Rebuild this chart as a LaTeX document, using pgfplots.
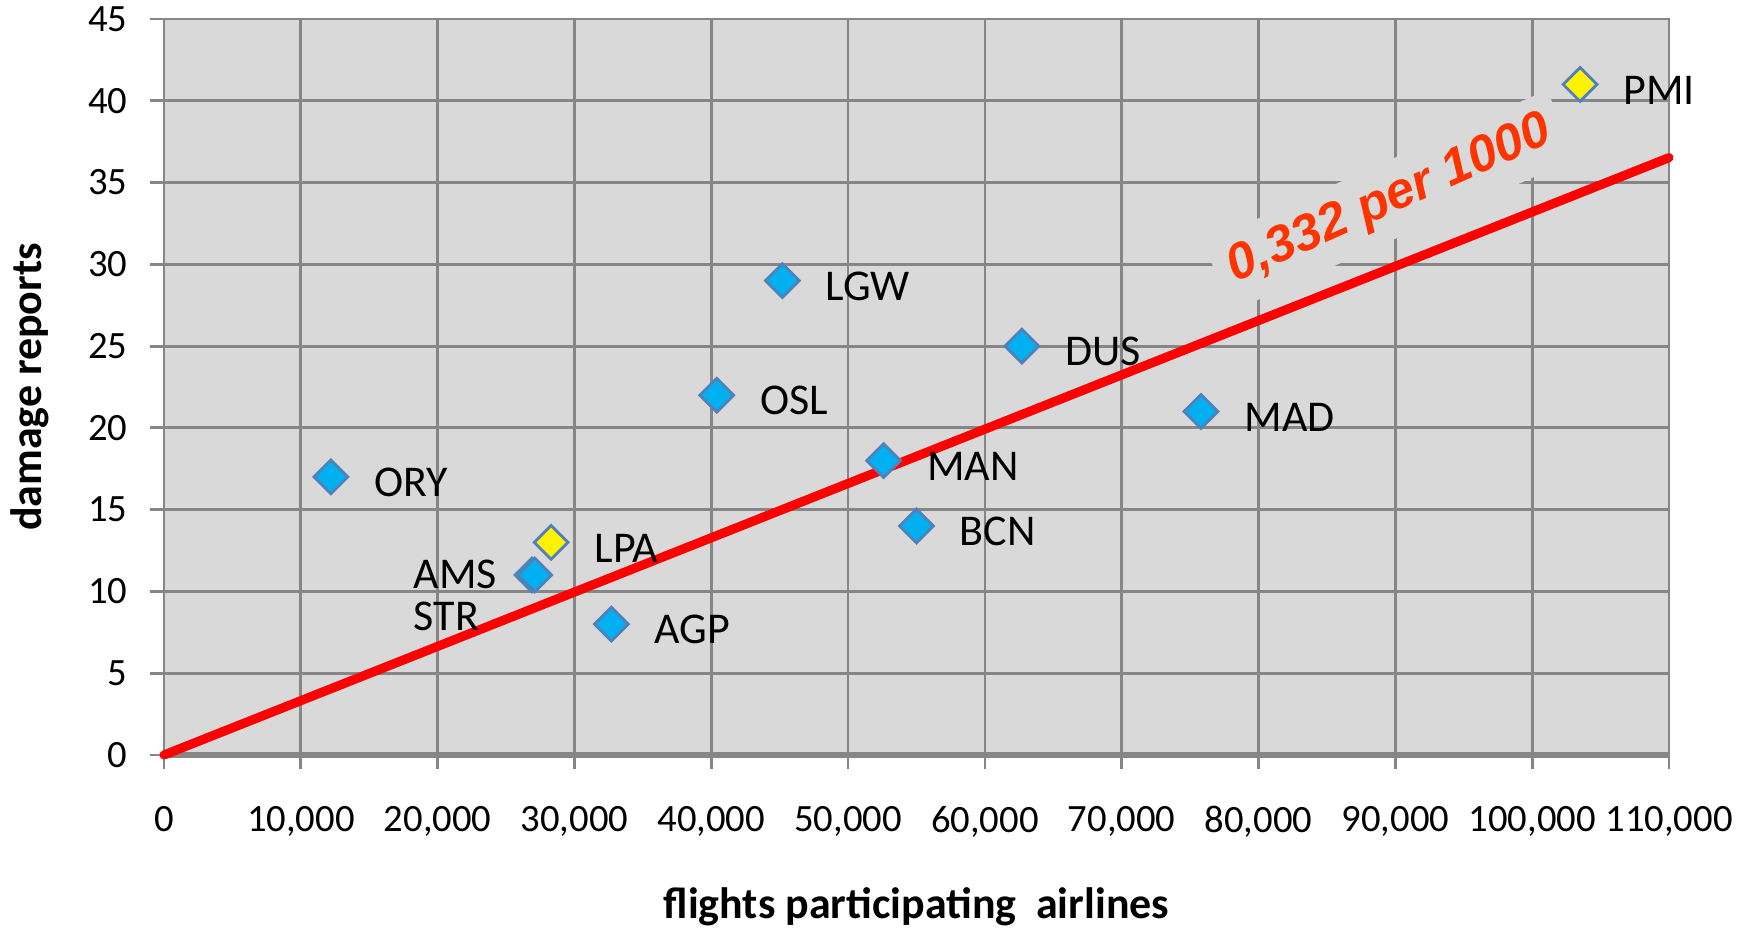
\documentclass[border=0pt]{standalone}
\usepackage{pgfplots}
\pgfplotsset{compat=1.18}
\usepackage{fontspec}
\setmainfont{Carlito}
\newfontfamily\arialfont{Liberation Sans}
\definecolor{bggray}{HTML}{D9D9D9}
\definecolor{gridgray}{HTML}{868686}
\definecolor{mfill}{HTML}{00B0F0}
\definecolor{mdraw}{HTML}{4F81BD}
\definecolor{lbl}{HTML}{FF3300}
\begin{document}
\begin{tikzpicture}
\begin{axis}[
  name=ax,
  scale only axis,
  width=15.05cm, height=7.36cm,
  xmin=0, xmax=110000, ymin=0, ymax=45,
  xtick={0,10000,20000,30000,40000,50000,60000,70000,80000,90000,100000,110000},
  ytick={0,5,10,15,20,25,30,35,40,45},
  scaled x ticks=false,
  /pgf/number format/fixed,
  /pgf/number format/precision=0,
  /pgf/number format/1000 sep={,},
  /pgf/number format/assume math mode=true,
  tick label style={font=\fontsize{11}{13}\selectfont},
  axis background/.style={fill=bggray},
  grid=major,
  major grid style={gridgray, line width=0.8pt},
  axis line style={gridgray, line width=0.8pt},
  tick style={gridgray, line width=0.8pt},
  tick align=outside, major tick length=0.14cm,
  tick pos=left,
  xticklabel style={yshift=-0.25cm},
  yticklabel style={xshift=-0.1cm},
  extra y ticks={0}, extra y tick labels={},
  extra y tick style={major grid style={gridgray, line width=1.6pt}},
  xlabel={flights participating\ \ airlines},
  ylabel={damage reports},
  label style={font=\bfseries\fontsize{12.5}{15}\selectfont},
  xlabel style={at={(axis description cs:0.5,-0.206)}, anchor=center},
  ylabel style={at={(axis description cs:-0.089,0.5)}, anchor=center},
  clip=false,
]
\node[rotate=24, fill=bggray, text=lbl, inner sep=4pt,
  font=\arialfont\bfseries\itshape\fontsize{14.5}{17}\selectfont]
  at (axis cs:89600,33.9) {0,332 per 1000};
\addplot[red, line width=2.6pt, line cap=round] coordinates {(0,0) (110000,36.52)};
\addplot[only marks, mark=square*, mark size=3.4pt,
  mark options={rotate=45, fill=mfill, draw=mdraw, line width=0.8pt}]
  coordinates {
  (12200,17) (26900,11) (27100,11) (32700,8) (40400,22) (45200,29)
  (52600,18) (55000,14) (62700,25) (75800,21)
  };
\addplot[only marks, mark=square*, mark size=3.4pt,
  mark options={rotate=45, fill=yellow, draw=mdraw, line width=0.8pt}]
  coordinates {(28300,13) (103500,41)};
\begin{scope}[every node/.style={anchor=west, xshift=0.31cm, yshift=-0.056cm, font=\fontsize{12.5}{15}\selectfont}]
\node at (axis cs:12200,17) {ORY};
\node at (axis cs:32700,8) {AGP};
\node at (axis cs:40400,22) {OSL};
\node at (axis cs:45200,29) {LGW};
\node at (axis cs:52600,18) {MAN};
\node at (axis cs:55000,14) {BCN};
\node at (axis cs:62700,25) {DUS};
\node at (axis cs:75800,21) {MAD};
\node at (axis cs:28300,13) {LPA};
\node at (axis cs:103500,41) {PMI};
\end{scope}
\node[anchor=west, inner sep=0pt, font=\fontsize{12.5}{15}\selectfont] at (axis cs:18200,11.04) {AMS};
\node[anchor=west, inner sep=0pt, font=\fontsize{12.5}{15}\selectfont] at (axis cs:18200,8.5) {STR};
\end{axis}
\pgfresetboundingbox
\path ([shift={(-1.64cm,-1.73cm)}]ax.south west) rectangle ([shift={(0.91cm,0.19cm)}]ax.north east);
\end{tikzpicture}
\end{document}
